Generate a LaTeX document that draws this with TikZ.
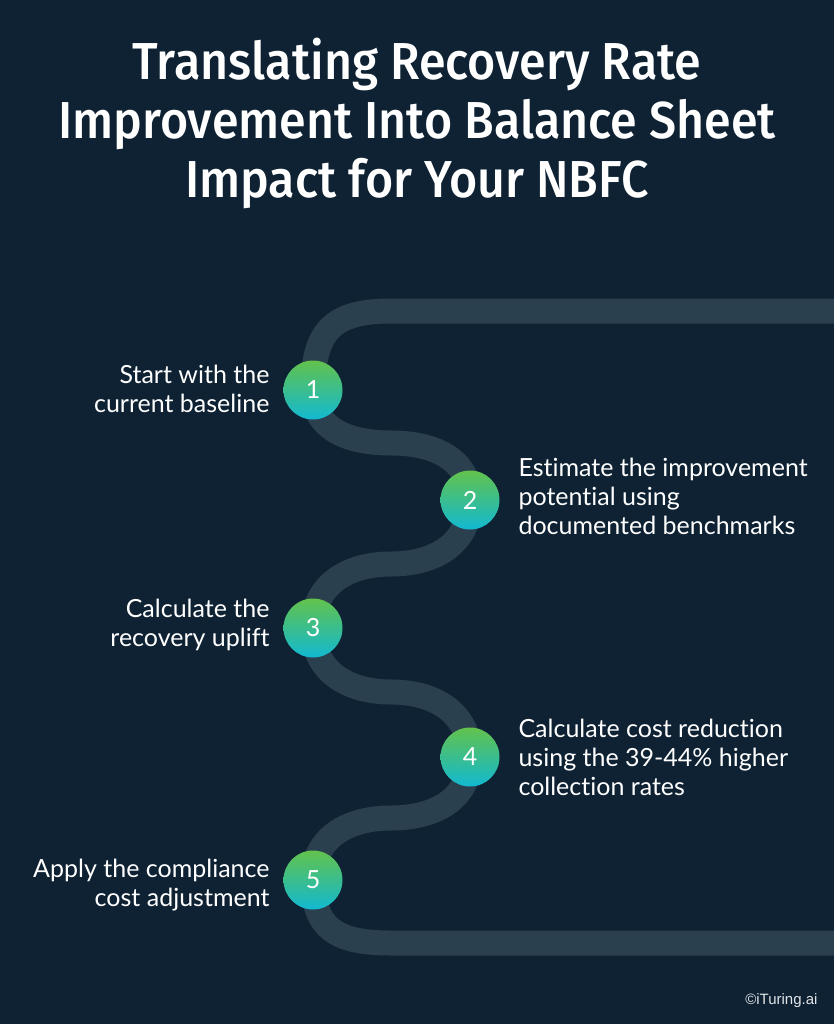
\documentclass[tikz,border=0pt]{standalone}
\usepackage{fontspec}
\usepackage{xcolor}
\usetikzlibrary{positioning}
\setmainfont{Lato}[RawFeature=-liga]
\newfontfamily\titlefont{Fira Sans}[UprightFont={* Medium}, FakeStretch=0.93]
\newfontfamily\markfont{Liberation Sans}
\definecolor{bgc}{HTML}{0E2233}
\definecolor{roadc}{HTML}{2B404E}
\definecolor{topc}{HTML}{62C24C}
\definecolor{botc}{HTML}{12B9D2}
\pgfdeclarelayer{road}
\pgfsetlayers{road,main}

\begin{document}
\begin{tikzpicture}[x=1pt, y=-1pt,
      every node/.style={text=white},
      stepdot/.style={circle, minimum size=59pt, inner sep=0pt,
                      top color=topc, bottom color=botc, font=\fontsize{25}{25}\selectfont},
      lbl/.style={font=\fontsize{25}{29}\selectfont},
      lleft/.style={lbl, anchor=east, align=right},
      lright/.style={lbl, anchor=west, align=left},
      roadline/.style={draw=roadc, line width=25pt}]
    \useasboundingbox (0,0) rectangle (834,1024);
    % steps
    \node[stepdot] (s1) at (313,390) {1};
    \node[stepdot] (s2) at (470,500) {2};
    \node[stepdot] (s3) at (313,628) {3};
    \node[stepdot] (s4) at (470,757) {4};
    \node[stepdot] (s5) at (313,880) {5};
    \coordinate (tr) at (850,311);
    \coordinate (tl) at (391,311);
    \coordinate (m12) at (391,443);
    \coordinate (m23) at (391,564);
    \coordinate (m34) at (391,692);
    \coordinate (m45) at (391,818);
    \coordinate (bl) at (391,943);
    \coordinate (br) at (850,943);
    \begin{pgfonlayer}{road}
      \fill[bgc] (0,0) rectangle (834,1024);
      \clip (0,0) rectangle (834,1024);
      \draw[roadline, looseness=1.1] (tr) -- (tl) to[out=180,in=90,looseness=1.35] (s1.center)
        to[out=-90,in=180] (m12) to[out=0,in=90] (s2.center)
        to[out=-90,in=0] (m23) to[out=180,in=90] (s3.center)
        to[out=-90,in=180] (m34) to[out=0,in=90] (s4.center)
        to[out=-90,in=0] (m45) to[out=180,in=90] (s5.center)
        to[out=-90,in=180,looseness=1.3] (bl) -- (br);
    \end{pgfonlayer}
    % labels
    \node[lleft] (t1) at (273,389) {Start with the\\current baseline};
    \node[lright] (t2) at (515,496) {Estimate the improvement\\potential using\\documented benchmarks};
    \node[lleft] (t3) at (273,625) {Calculate the\\recovery uplift};
    \node[lright] (t4) at (515,757) {Calculate cost reduction\\using the 39-44\% higher\\collection rates};
    \node[lleft] (t5) at (273,885) {Apply the compliance\\cost adjustment};
    % title
    \node[font=\titlefont\fontsize{52}{59}\selectfont, align=center] (title) at (417,123)
      {Translating Recovery Rate\\Improvement Into Balance Sheet\\Impact for Your NBFC};
    \node[font=\markfont\fontsize{15}{15}\selectfont, text=white!88!bgc, anchor=east] (mark) at (821,1001) {©iTuring.ai};
\end{tikzpicture}
\end{document}
